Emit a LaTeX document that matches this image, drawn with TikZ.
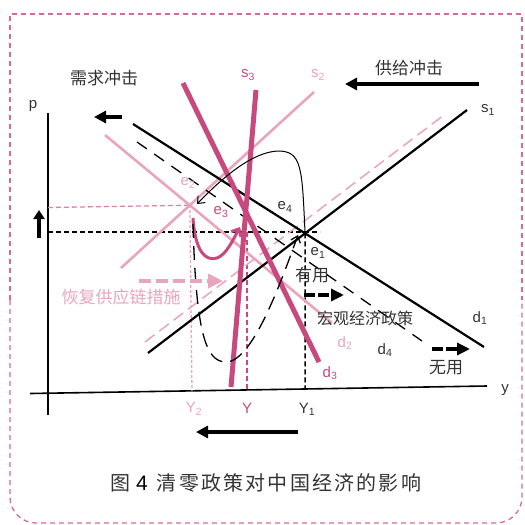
\documentclass[tikz,border=0pt]{standalone}
\usepackage{fontspec}
\setmainfont{Liberation Sans}
\newfontfamily\cjk{Noto Sans CJK SC}
\newfontfamily\cjkcap[LetterSpace=11]{Noto Sans CJK SC}
\usetikzlibrary{arrows.meta}
\definecolor{dpink}{HTML}{C8497E}
\definecolor{lpink}{HTML}{E8A5BD}
\definecolor{bpink}{HTML}{D9689A}
\definecolor{mpink}{HTML}{E07FA7}
\definecolor{txt}{HTML}{333333}
\tikzset{
  blackline/.style={line width=2.2pt, black},
  lpinkline/.style={line width=2.6pt, lpink},
  dpinkline/.style={line width=5pt, dpink},
  framestyle/.style={bpink, line width=1.3pt, dash pattern=on 5pt off 4pt},
  lbl/.style={font=\fontsize{15}{15}\selectfont, text=txt, inner sep=0pt},
  cn/.style={font=\cjk\fontsize{17}{17}\selectfont, text=txt, inner sep=0pt},
  bigarrow/.style={line width=3.3pt, -{Triangle[length=12pt,width=12pt]}},
  dasharrow/.style={line width=4pt, dash pattern=on 11pt off 3pt, -{Triangle[length=13pt,width=12pt]}},
}
\begin{document}
\begin{tikzpicture}[x=1pt,y=-1pt]
\useasboundingbox (0,0) rectangle (525,525);
% frame
\draw[framestyle] (10,300) -- (10,14) -- (522,14) -- (522,300);
\draw[framestyle, rounded corners=26pt] (10,300) -- (10,523) -- (522,523) -- (522,300);
% axes
\coordinate (yaxtop) at (48,113);
\coordinate (yaxbot) at (48,415);
\coordinate (xaxl) at (30,393.5);
\coordinate (xaxr) at (487,386);
\draw[line width=1.6pt] (yaxtop) -- (yaxbot);
\draw[line width=1.6pt] (xaxl) -- (xaxr);
\node[lbl] (plab) at (33,106) {p};
\node[lbl] (ylab) at (505,390) {y};
% line end points
\coordinate (S1a) at (148,353); \coordinate (S1b) at (467,110);
\coordinate (d1a) at (133,124); \coordinate (d1b) at (484,347);
\coordinate (S2a) at (121,268); \coordinate (S2b) at (314,92);
\coordinate (d2a) at (105,135); \coordinate (d2b) at (332,323);
\coordinate (S3a) at (256,90);  \coordinate (S3b) at (231,387);
\coordinate (d3a) at (183,83);  \coordinate (d3b) at (319,362);
\coordinate (d4a) at (137,142); \coordinate (d4b) at (422,341);
\coordinate (S4a) at (145,342); \coordinate (S4b) at (444,115);
\coordinate (e1) at (intersection of S1a--S1b and d1a--d1b);
\coordinate (e2) at (intersection of S2a--S2b and d2a--d2b);
% reference dashed lines
\coordinate (p1l) at (48,232); \coordinate (p1r) at (320,232);
\coordinate (p2l) at (48,207.5);
\coordinate (Y1b) at (305,389);
\coordinate (Y2b) at (192,391);
\coordinate (Yt) at (247,232); \coordinate (Yb) at (247,390);
\draw[black, line width=1.5pt, dash pattern=on 5pt off 3pt] (p1l) -- (p1r);
\draw[black, line width=1.5pt, dash pattern=on 5pt off 3pt] (e1) -- (Y1b);
\draw[mpink, line width=1.3pt, dash pattern=on 5pt off 3pt] (p2l) -- (e2);
\draw[lpink, line width=1.3pt, dash pattern=on 3pt off 2pt] (e2) -- (Y2b);
\draw[dpink, line width=1.3pt, dash pattern=on 5pt off 3pt] (Yt) -- (Yb);
% curves
\draw[lpinkline] (S2a) -- (S2b);
\draw[lpinkline] (d2a) -- (d2b);
\draw[lpink, line width=1.5pt, dash pattern=on 12pt off 6pt] (S4a) -- (S4b);
\draw[black, line width=1.3pt, dash pattern=on 12pt off 9pt] (d4a) -- (d4b);
\draw[blackline] (S1a) -- (S1b);
\draw[blackline] (d1a) -- (d1b);
\draw[dpinkline] (S3a) -- (S3b);
\draw[dpinkline] (d3a) -- (d3b);
% adjustment paths
\coordinate (c1s) at (305,232); \coordinate (c1e) at (197,204);
\draw[black, line width=1pt, -{Straight Barb[length=6pt,width=10pt]}]
  (c1s) .. controls (302,168) and (302,151) .. (278,151) .. controls (252,152) and (222,178) .. (c1e);
\coordinate (c2s) at (193,218); \coordinate (c2e) at (240,227);
\draw[dpink, line width=3pt, -{Straight Barb[length=6pt,width=11pt]}]
  (c2s) .. controls (195,250) and (205,262) .. (217,258) .. controls (226,255) and (233,240) .. (c2e);
\coordinate (c3s) at (193,224); \coordinate (c3e) at (298,235);
\draw[black, line width=1.3pt, dash pattern=on 14pt off 8pt, -{Straight Barb[length=6pt,width=10pt]}]
  (c3s) .. controls (196,330) and (205,362) .. (226,362) .. controls (252,362) and (280,285) .. (c3e);
% shock arrows
\coordinate (dsA) at (122,117); \coordinate (dsB) at (94,117);
\draw[bigarrow] (dsA) -- (dsB);
\coordinate (ssA) at (479,84); \coordinate (ssB) at (345,84);
\draw[bigarrow] (ssA) -- (ssB);
\coordinate (upA) at (39,238); \coordinate (upB) at (39,210);
\draw[line width=4.5pt, -{Triangle[length=9pt,width=11pt]}] (upA) -- (upB);
\coordinate (btA) at (298,432); \coordinate (btB) at (196,432);
\draw[bigarrow] (btA) -- (btB);
\coordinate (yyA) at (304,295); \coordinate (yyB) at (344,295);
\draw[dasharrow] (yyA) -- (yyB);
\coordinate (wyA) at (432,349); \coordinate (wyB) at (470,349);
\draw[dasharrow] (wyA) -- (wyB);
\coordinate (rcA) at (139,281); \coordinate (rcB) at (223,281);
\draw[lpink, line width=4pt, dash pattern=on 12pt off 5pt, -{Triangle[length=15pt,width=14pt]}] (rcA) -- (rcB);
% labels
\node[cn] (t1) at (104,78) {需求冲击};
\node[cn] (t2) at (409,68) {供给冲击};
\node[cn] (t3) at (312,275) {有用};
\node[cn, font=\cjk\fontsize{16}{16}\selectfont] (t4) at (365,318) {宏观经济政策};
\node[cn] (t5) at (446,368) {无用};
\node[cn, text=lpink] (t6) at (121,297) {恢复供应链措施};
\node[lbl] (s1l) at (488,110) {s\textsubscript{1}};
\node[lbl, text=lpink] (s2l) at (318,75) {s\textsubscript{2}};
\node[lbl, text=dpink] (s3l) at (248,75) {s\textsubscript{3}};
\node[lbl] (d1l) at (480,318) {d\textsubscript{1}};
\node[lbl, text=lpink] (d2l) at (345,343) {d\textsubscript{2}};
\node[lbl, text=dpink] (d3l) at (330,373) {d\textsubscript{3}};
\node[lbl] (d4l) at (385,350) {d\textsubscript{4}};
\node[lbl] (e1l) at (318,253) {e\textsubscript{1}};
\node[lbl, text=lpink] (e2l) at (188,183) {e\textsubscript{2}};
\node[lbl, text=dpink] (e3l) at (221,212) {e\textsubscript{3}};
\node[lbl] (e4l) at (285,207) {e\textsubscript{4}};
\node[lbl] (Y1l) at (307,409) {Y\textsubscript{1}};
\node[lbl, text=lpink] (Y2l) at (194,409) {Y\textsubscript{2}};
\node[lbl, text=dpink] (Yl) at (247,408) {Y};
\node[text=txt, inner sep=0pt, anchor=west] (cap) at (110,483) {\cjk\fontsize{20}{20}\selectfont 图\hspace{6pt}{\fontspec{Liberation Sans}\fontsize{21}{21}\selectfont\color{black}4}\hspace{9pt}\cjkcap 清零政策对中国经济的影响};
\end{tikzpicture}
\end{document}
